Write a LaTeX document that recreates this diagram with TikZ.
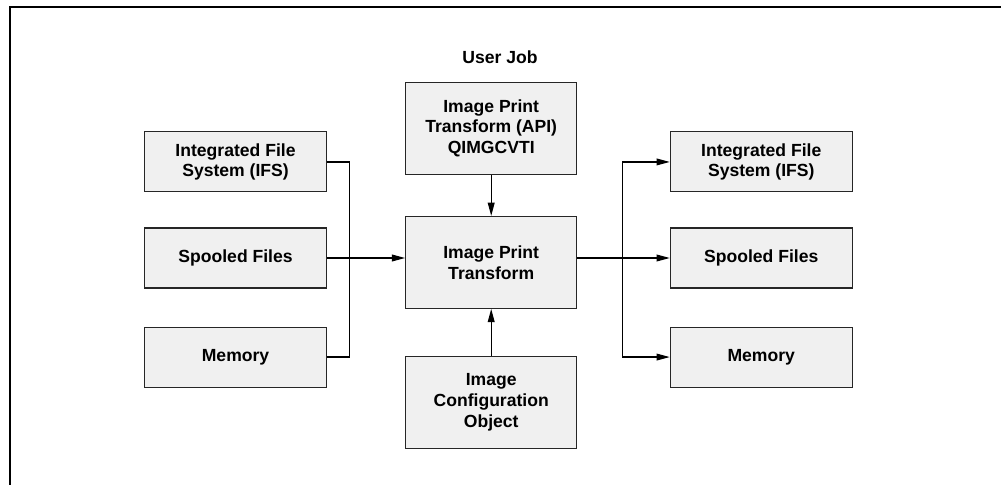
\documentclass[tikz,border=0pt]{standalone}
\usepackage{fontspec}
\setmainfont{Liberation Sans}
\usepackage{tikz}
\usetikzlibrary{arrows.meta,positioning,calc}

\begin{document}
\begin{tikzpicture}[
        font=\fontsize{12.5}{14.8}\selectfont\bfseries,
        sidebox/.style={rectangle, draw=black!85, line width=0.75pt, fill=black!6, minimum width=4.55cm, minimum height=1.5cm, align=center},
        midbox/.style={rectangle, draw=black!85, line width=0.75pt, fill=black!6, minimum width=4.28cm, minimum height=2.3cm, align=center},
        line/.style={line width=0.8pt},
        flow/.style={line, -{Triangle[length=3.3mm, width=1.7mm]}}
    ]
    \useasboundingbox (0,0) rectangle (25.025,-12.125);

    % Frame
    \draw[line width=1.5pt] (0.24,-12.125) |- (25.025,-0.175);

    % Transform
    \node[midbox] (xform) at (12.28,-6.56) {Image Print\\Transform};
    \node[midbox, above=1.025cm of xform] (api) {Image Print\\Transform (API)\\QIMGCVTI};
    \node[midbox, below=1.17cm of xform] (cfg) {Image\\Configuration\\Object};
    \node[inner sep=0pt, anchor=base, above=0.45cm of api, xshift=0.22cm] (job) {User Job};

    % Input
    \node[sidebox, left=1.95cm of xform, yshift=0.11cm] (lspool) {Spooled Files};
    \node[sidebox, above=0.875cm of lspool] (lifs) {Integrated File\\System (IFS)};
    \node[sidebox, below=0.95cm of lspool] (lmem) {Memory};

    % Output
    \node[sidebox, right=2.31cm of xform, yshift=0.11cm] (rspool) {Spooled Files};
    \node[sidebox, above=0.875cm of rspool] (rifs) {Integrated File\\System (IFS)};
    \node[sidebox, below=0.95cm of rspool] (rmem) {Memory};

    % Flows
    \draw[flow] (api) -- (xform);
    \draw[flow] (cfg) -- (xform);

    \draw[line] (lifs.east) -- ++(0.56,0) |- (lmem.east);
    \draw[flow] (lspool.east) -- (lspool.east -| xform.west);

    \coordinate (rtop) at ([xshift=-1.19cm]rifs.west);
    \coordinate (rbot) at (rtop |- rmem.west);
    \draw[line] (rtop) -- (rbot);
    \draw[flow] (rspool.west -| xform.east) -- (rspool.west);
    \draw[flow] (rtop) -- (rifs.west);
    \draw[flow] (rbot) -- (rmem.west);

\end{tikzpicture}
\end{document}
